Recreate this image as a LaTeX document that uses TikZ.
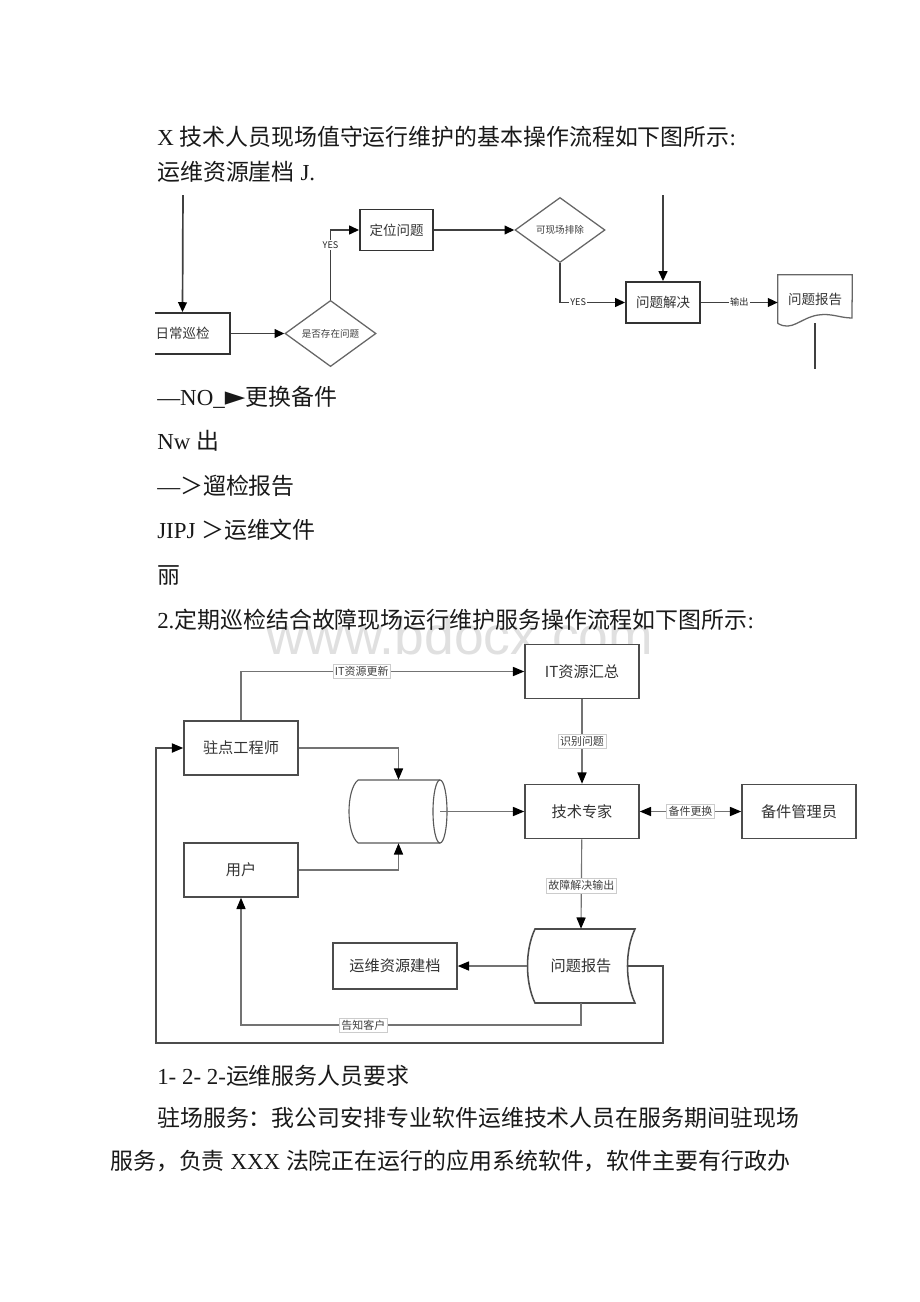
\documentclass[tikz,border=0pt]{standalone}
\usepackage{fontspec}
\setmainfont{Liberation Serif}
\newfontfamily\cjk{Noto Sans CJK SC}
\newfontfamily\symb{DejaVu Sans}
\newfontfamily\wmfont{Liberation Sans}
\usetikzlibrary{positioning, arrows.meta, shapes.geometric, calc}

\tikzset{
  body/.style={anchor=base west, inner sep=0pt, font=\fontsize{16.3pt}{16.3pt}\selectfont, text=black!90},
}

\begin{document}
\begin{tikzpicture}[
    x=0.025cm, y=-0.025cm,
    % first chart
    boxa/.style={draw=black!80, line width=1.3pt, fill=white, inner sep=0pt, minimum height=1.025cm,
                 font=\cjk\fontsize{9.6pt}{9.6pt}\selectfont, text=black!80},
    deci/.style={diamond, draw=black!60, line width=0.9pt, fill=white, inner sep=0pt,
                 font=\cjk\fontsize{6.8pt}{6.8pt}\selectfont, text=black!75},
    flowa/.style={draw=black!75, line width=1.2pt, -{Triangle[length=7pt,width=6.2pt,color=black]}},
    taga/.style={fill=white, inner sep=1pt, font=\cjk\fontsize{6.5pt}{6.5pt}\selectfont, text=black!85},
    % second chart
    boxb/.style={draw=black!70, line width=1.1pt, fill=white, inner sep=0pt, minimum width=2.85cm,
                 minimum height=1.35cm, font=\cjk\fontsize{10.8pt}{10.8pt}\selectfont, text=black!80},
    flowb/.style={draw=black!55, line width=0.8pt},
    arrb/.style={-{Triangle[length=8pt,width=6.5pt,color=black]}},
    darrb/.style={{Triangle[length=8pt,width=6.5pt,color=black]}-{Triangle[length=8pt,width=6.5pt,color=black]}},
    tagb/.style={fill=white, draw=black!20, line width=0.3pt, inner sep=1.5pt,
                 font=\cjk\fontsize{7.8pt}{7.8pt}\selectfont, text=black!75},
  ]

  \fill[white] (0,0) rectangle (920,1302);
  \useasboundingbox (0,0) rectangle (920,1302);

  % watermark
  \node[anchor=base, inner sep=0pt, font=\wmfont\fontsize{38pt}{38pt}\selectfont, text=black!12] (wm) at (460,654) {www.bdocx.com};

  % page text
  \node[body] (t1) at (157,145) {X {\cjk 技术人员现场值守运行维护的基本操作流程如下图所示}:};
  \node[body] (t2) at (157,180) {{\cjk 运维资源崖档} J.};
  \node[body] (t3) at (157,405) {—NO\_{\symb\fontsize{19pt}{19pt}\selectfont ►}{\cjk 更换备件}};
  \node[body] (t4) at (157,449) {Nw {\cjk 出}};
  \node[body] (t5) at (157,494) {—{\cjk ＞遛检报告}};
  \node[body] (t6) at (157,538) {JIPJ {\cjk ＞运维文件}};
  \node[body] (t7) at (157,583) {{\cjk 丽}};
  \node[body] (t8) at (157,628) {2.{\cjk 定期巡检结合故障现场运行维护服务操作流程如下图所示}:};
  \node[body] (t9) at (157,1084) {1- 2- 2-{\cjk 运维服务人员要求}};
  \node[body] (t10) at (157,1126) {{\cjk 驻场服务：我公司安排专业软件运维技术人员在服务期间驻现场}};
  \node[body] (t11) at (110,1169) {{\cjk 服务，负责} XXX {\cjk 法院正在运行的应用系统软件，软件主要有行政办}};

  % chart 1: on-site duty
  \begin{scope}
    \clip (155,195) rectangle (855,368);
    \node[boxa, minimum width=2.375cm] (rc) at (182.5,333.5) {日常巡检};
    \node[deci, minimum width=2.275cm, minimum height=1.575cm] (d1) at (330.5,333.5) {是否存在问题};
    \node[boxa, minimum width=1.825cm] (dw) at (396.5,230) {定位问题};
    \node[deci, minimum width=2.25cm, minimum height=1.625cm] (d2) at (560,230) {可现场排除};
    \node[boxa, minimum width=1.85cm] (jj) at (663,302.5) {问题解决};
    \node[inner sep=0pt, minimum width=1.85cm, minimum height=1.2cm,
          font=\cjk\fontsize{9.6pt}{9.6pt}\selectfont, text=black!80] (bg) at (815,299) {问题报告};
    \coordinate (rcin) at (183,190);
    \coordinate (jjin) at (663,190);
    \coordinate (bgout) at (815,372);

    \draw[draw=black!60, line width=0.9pt] (bg.south west) -- (bg.north west) -- (bg.north east) -- (852,318)
      .. controls (840,318) and (832,313) .. (818,315) .. controls (800,318) and (792,332) .. (bg.south west);

    \draw[flowa] (rcin) -- (rc.north);
    \draw[flowa] (rc) -- (d1);
    \draw[flowa] (d1.north) |- node[taga, pos=0.39] {YES} (dw.west);
    \draw[flowa] (dw) -- (d2);
    \draw[flowa] (d2.south) |- node[taga, pos=0.64] {YES} (jj.west);
    \draw[flowa] (jjin) -- (jj.north);
    \draw[flowa] (jj.east) -- node[taga] {输出} (jj.east -| bg.west);
    \draw[draw=black!75, line width=1.2pt] (bg.south) -- (bgout);
  \end{scope}

  % chart 2: inspection plus fault service
  \node[boxb] (zd) at (241,748) {驻点工程师};
  \node[boxb] (yh) at (241,870) {用户};
  \node[boxb] (its) at (582,671.5) {IT资源汇总};
  \node[boxb] (zj) at (582,811.5) {技术专家};
  \node[boxb] (bj) at (799,811.5) {备件管理员};
  \node[boxb, minimum width=3.1cm, minimum height=1.15cm] (jd) at (395,966) {运维资源建档};
  \node[inner sep=0pt, minimum width=2.7cm, minimum height=1.85cm,
        font=\cjk\fontsize{10.8pt}{10.8pt}\selectfont, text=black!80] (wt) at (581,966) {问题报告};
  \node[inner sep=0pt, minimum width=2.425cm, minimum height=1.575cm] (db) at (398.5,811.5) {};

  % cylinder outline
  \draw[draw=black!65, line width=0.8pt] (358,780) -- (440,780) (358,843) -- (440,843)
    (358,780) .. controls (346,790) and (346,833) .. (358,843);
  \draw[draw=black!65, line width=0.8pt] (440,811.5) ellipse [x radius=7, y radius=31.5];
  % stored data outline
  \draw[draw=black!70, line width=1.1pt] (535,929) -- (635,929) .. controls (625,950) and (625,982) .. (635,1003)
    -- (535,1003) .. controls (525,982) and (525,950) .. (535,929) -- cycle;

  \coordinate (dbe) at (440,811.5);
  \coordinate (wte) at (627,966);
  \coordinate (lp1) at (663,1043);
  \coordinate (lp2) at (156,1043);
  \coordinate (lp3) at (241,1025);

  \draw[flowb, arrb] (zd.north) |- node[tagb, pos=0.713] {IT资源更新} (its.west);
  \draw[flowb, arrb] (its) -- node[tagb] {识别问题} (zj);
  \draw[flowb, arrb] (zd.east) -| (db.north);
  \draw[flowb, arrb] (yh.east) -| (db.south);
  \draw[flowb, arrb] (dbe) -- (zj.west);
  \draw[flowb, darrb] (zj) -- node[tagb] {备件更换} (bj);
  \draw[flowb, arrb] (zj) -- node[tagb, pos=0.52] {故障解决输出} (wt.north);
  \draw[flowb, arrb] (wt.west) -- (jd.east);
  \draw[flowb, arrb] (wt.south) |- node[tagb, pos=0.82] {告知客户} (lp3) -- (yh.south);
  \draw[flowb, arrb, draw=black!70, line width=1pt] (wte) -| (lp1) -- (lp2) |- (zd.west);

\end{tikzpicture}
\end{document}
